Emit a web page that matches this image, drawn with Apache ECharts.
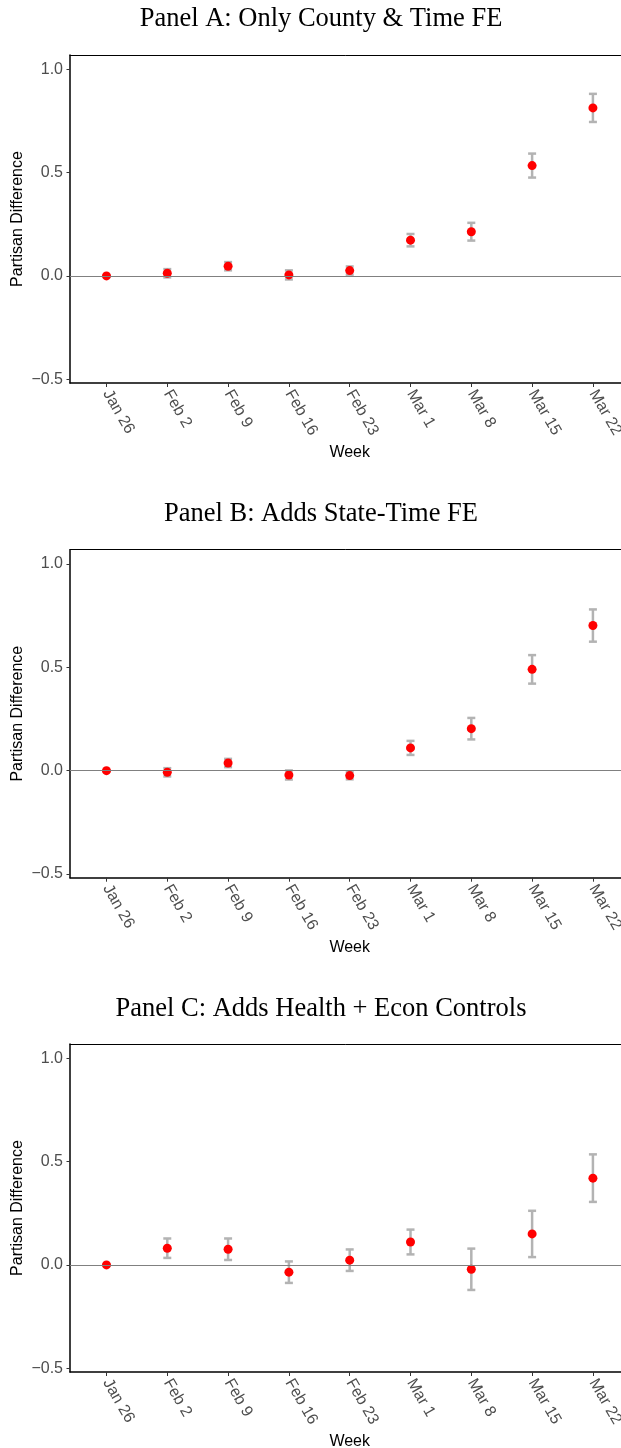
<!DOCTYPE html>
<html>
<head>
<meta charset="utf-8">
<script src="https://cdn.jsdelivr.net/npm/echarts@6/dist/echarts.min.js"></script>
<style>
  html, body { margin: 0; padding: 0; background: #fff; }
  #chart { width: 621px; height: 1448px; }
</style>
</head>
<body>
<div id="chart"></div>
<script>
// Weekly partisan-difference estimates with 95% confidence half-widths
const weeks = ['Jan 26', 'Feb 2', 'Feb 9', 'Feb 16', 'Feb 23', 'Mar 1', 'Mar 8', 'Mar 15', 'Mar 22'];
const yTicks = [-0.5, 0, 0.5, 1.0];

const titleA = 'Panel A: Only County & Time FE';
const estA = [0, 0.013, 0.047, 0.005, 0.026, 0.173, 0.214, 0.534, 0.813];
const ciA  = [0, 0.020, 0.020, 0.022, 0.020, 0.030, 0.043, 0.058, 0.068];

const titleB = 'Panel B: Adds State-Time FE';
const estB = [0, -0.008, 0.037, -0.021, -0.024, 0.110, 0.203, 0.490, 0.702];
const ciB  = [0, 0.020, 0.020, 0.022, 0.018, 0.034, 0.052, 0.069, 0.078];

const titleC = 'Panel C: Adds Health + Econ Controls';
const estC = [0, 0.081, 0.076, -0.035, 0.023, 0.111, -0.021, 0.150, 0.420];
const ciC  = [0, 0.047, 0.052, 0.052, 0.052, 0.060, 0.100, 0.112, 0.115];

const panels = [
  { title: titleA, est: estA, ci: ciA },
  { title: titleB, est: estB, ci: ciB },
  { title: titleC, est: estC, ci: ciC }
];

// Layout of the three stacked panels
const gridTops = [55, 549.7, 1044];
const gridHeight = 328;
const gridLeft = 70;
const gridWidth = 559.4;
const titleYs = [19.5, 514.5, 1009.5];
const titleX = 321;

const sans = 'Liberation Sans, Arial, sans-serif';
const serif = 'Liberation Serif, Times New Roman, serif';
const weekIdx = weeks.map((w, i) => i);

const fmtY = v => (v < 0 ? '\u2212' : '') + Math.abs(v).toFixed(1);

const grid = [], xAxis = [], yAxis = [], series = [], graphic = [];

panels.forEach((p, i) => {
  grid.push({ left: gridLeft, top: gridTops[i], width: gridWidth, height: gridHeight, outerBoundsMode: 'none', containLabel: false });

  // bottom axis with week labels
  xAxis.push({
    gridIndex: i, type: 'value', position: 'bottom', min: -0.6, max: 8.6,
    splitLine: { show: false },
    axisLine: { show: true, onZero: false, lineStyle: { color: '#000', width: 1.5 } },
    axisTick: { show: true, customValues: weekIdx, length: 4, lineStyle: { color: '#333', width: 1 } },
    axisLabel: {
      customValues: weekIdx, formatter: v => weeks[Math.round(v)],
      rotate: -60, margin: 8, fontSize: 16, color: '#4d4d4d', fontFamily: sans
    },
    name: 'Week', nameLocation: 'middle', nameGap: 62, nameMoveOverlap: false,
    nameTextStyle: { fontSize: 16, color: '#000', fontFamily: sans }
  });
  // top frame line
  xAxis.push({
    gridIndex: i, type: 'value', position: 'top', min: -0.6, max: 8.6,
    splitLine: { show: false },
    axisLine: { show: true, onZero: false, lineStyle: { color: '#000', width: 1 } },
    axisTick: { show: false }, axisLabel: { show: false }
  });

  yAxis.push({
    gridIndex: i, type: 'value', min: -0.518, max: 1.069,
    splitLine: { show: false },
    axisLine: { show: true, onZero: false, lineStyle: { color: '#000', width: 1.5 } },
    axisTick: { show: true, customValues: yTicks, length: 3.5, lineStyle: { color: '#333', width: 1 } },
    axisLabel: { customValues: yTicks, formatter: fmtY, margin: 7, fontSize: 16, color: '#4d4d4d', fontFamily: sans },
    name: 'Partisan Difference', nameLocation: 'middle', nameGap: 44, nameMoveOverlap: false,
    nameTextStyle: { fontSize: 16, color: '#000', fontFamily: sans }
  });

  // confidence intervals as capped error bars, plus the zero reference line
  series.push({
    type: 'custom',
    xAxisIndex: i * 2, yAxisIndex: i, z: 2,
    data: weeks.map((w, j) => [j, p.est[j] - p.ci[j], p.est[j] + p.ci[j]]),
    renderItem: (params, api) => {
      const x = api.value(0);
      const top = api.coord([x, api.value(2)]);
      const bot = api.coord([x, api.value(1)]);
      const cap = 4;
      const style = { stroke: '#b3b3b3', lineWidth: 2.5 };
      return {
        type: 'group',
        children: [
          { type: 'line', shape: { x1: top[0], y1: top[1], x2: bot[0], y2: bot[1] }, style },
          { type: 'line', shape: { x1: top[0] - cap, y1: top[1], x2: top[0] + cap, y2: top[1] }, style },
          { type: 'line', shape: { x1: bot[0] - cap, y1: bot[1], x2: bot[0] + cap, y2: bot[1] }, style }
        ]
      };
    },
    markLine: {
      silent: true, symbol: 'none', label: { show: false }, animation: false,
      lineStyle: { color: '#808080', width: 1, type: 'solid' },
      data: [{ yAxis: 0 }]
    }
  });

  series.push({
    type: 'scatter',
    xAxisIndex: i * 2, yAxisIndex: i, z: 3,
    symbol: 'circle', symbolSize: 9,
    itemStyle: { color: '#ff0000', opacity: 1 },
    data: weeks.map((w, j) => [j, p.est[j]])
  });

  graphic.push({
    type: 'text', x: titleX, y: titleYs[i],
    style: { text: p.title, fontFamily: serif, fontSize: 26.5, fill: '#000', align: 'center', verticalAlign: 'middle' }
  });
});

const chart = echarts.init(document.getElementById('chart'), null, { renderer: 'canvas' });
chart.setOption({ animation: false, grid, xAxis, yAxis, series, graphic });
</script>
</body>
</html>
